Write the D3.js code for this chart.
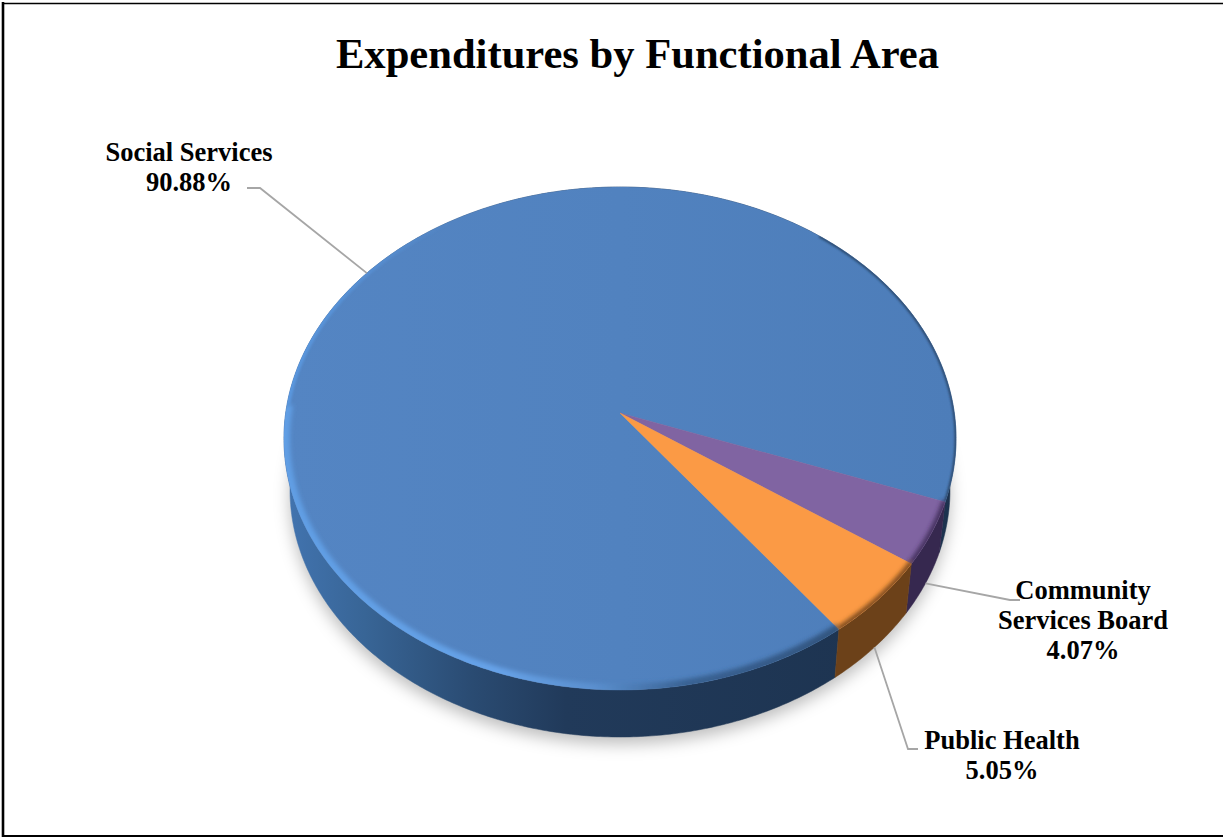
<!DOCTYPE html>
<html>
<head>
<meta charset="utf-8">
<title>Expenditures by Functional Area</title>
<script src="https://cdn.jsdelivr.net/npm/d3@7/dist/d3.min.js"></script>
<style>
  html, body { margin: 0; padding: 0; background: #fff; }
  svg { display: block; }
  text { font-family: "Liberation Serif", "Times New Roman", serif; font-weight: bold; fill: #000; }
</style>
</head>
<body>
<svg id="chart" width="1223" height="838"></svg>
<script>
const chartTitle = "Expenditures by Functional Area";
const categories = ["Social Services", "Community Services Board", "Public Health"];
const shares = [90.88, 4.07, 5.05];
const topColors = ["#5182bd", "#8064a2", "#fb9a45"];
const sideColors = ["#1f3450", "#36284f", "#6c4119"];
const labelLines = [["Social Services", "90.88%"], ["Community", "Services Board", "4.07%"], ["Public Health", "5.05%"]];

const W = 1223, H = 838;
const svg = d3.select("#chart");
const defs = svg.append("defs");
const rad = deg => deg * Math.PI / 180;

// Tilted disc: the centre sits above the middle of the visible ellipse because of perspective.
const disc = { cx: 620, cy: 413, a: 334.3, b: 248.9, k: 0.1014, depth: 52, baseScale: 0.982 };

// Unit circle to screen, with level 0 for the top face and level 1 for the underside.
function project(angle, radius, level) {
  const u = Math.sin(angle) * radius, v = -Math.cos(angle) * radius, d = 1 - disc.k * v;
  const s = level ? disc.baseScale : 1;
  return [disc.cx + s * disc.a * u / d, disc.cy + s * disc.b * v / d + (level ? disc.depth : 0)];
}
function rim(a0, a1, level) {
  const n = Math.max(2, Math.ceil(Math.abs(a1 - a0) / 0.01));
  return d3.range(n + 1).map(i => project(a0 + (a1 - a0) * i / n, 1, level));
}
const line = d3.line();
const closed = d3.line().curve(d3.curveLinearClosed);

const pie = d3.pie().sort(null).value(d => d)
  .startAngle(rad(143)).endAngle(rad(143 + 360));
const arcs = pie(shares);

// Filters and gradients
const blur = (id, s) => defs.append("filter").attr("id", id)
  .attr("x", "-20%").attr("y", "-20%").attr("width", "140%").attr("height", "140%")
  .append("feGaussianBlur").attr("stdDeviation", s);
blur("shadowBlur", 8);
blur("bevelBlur", 2);
blur("edgeBlur", 0.8);

function hGrad(id, stops, x1, x2) {
  const g = defs.append("linearGradient").attr("id", id).attr("gradientUnits", "userSpaceOnUse")
    .attr("x1", x1).attr("x2", x2).attr("y1", 0).attr("y2", 0);
  stops.forEach(([o, c, op]) => g.append("stop").attr("offset", o).attr("stop-color", c).attr("stop-opacity", op === undefined ? 1 : op));
}
hGrad("blueSide", [[0, "#4274b0"], [0.12, "#386596"], [0.28, "#2a4b72"], [0.42, "#213a5a"], [1, "#1c324e"]], 284, 956);
hGrad("blueTop", [[0, "#5485c3"], [0.5, "#5182bf"], [1, "#4d7db9"]], 284, 956);
hGrad("frontBevel", [[0, "#609ee4"], [0.32, "#66a2e8"], [0.46, "#5f96d6", 0.7], [0.6, "#2f5480", 0.7], [1, "#274466", 0.9]], 284, 956);
hGrad("leftBevel", [[0, "#5a98e0"], [0.1, "#5a98e0", 0.6], [0.25, "#5a98e0", 0]], 284, 956);

const clipTop = defs.append("clipPath").attr("id", "topFace");
clipTop.append("path").attr("d", closed(rim(0, 2 * Math.PI, 0)));

// Frame
[[3, 2, 3, 837, 2.6], [2, 3.5, 1223, 3.5, 1.6], [2, 836, 1223, 836, 2]].forEach(([x1, y1, x2, y2, w]) =>
  svg.append("line").attr("x1", x1).attr("y1", y1).attr("x2", x2).attr("y2", y2)
    .attr("stroke", "#000").attr("stroke-width", w));

// Title
svg.append("text").attr("x", 637.5).attr("y", 68).attr("text-anchor", "middle")
  .attr("font-size", 42.6).text(chartTitle);

// Soft drop shadow under the disc
svg.append("path").attr("d", closed(rim(0, 2 * Math.PI, 1)))
  .attr("transform", "translate(0,7)").attr("fill", "#000").attr("fill-opacity", 0.26)
  .attr("filter", "url(#shadowBlur)");

// Side wall, one band per slice; the top face hides the back half
const walls = svg.append("g");
arcs.forEach((d, i) => {
  const pts = rim(d.startAngle, d.endAngle, 0).concat(rim(d.endAngle, d.startAngle, 1));
  walls.append("path").attr("d", closed(pts))
    .attr("fill", i === 0 ? "url(#blueSide)" : sideColors[i])
    .attr("stroke", i === 0 ? "url(#blueSide)" : sideColors[i]).attr("stroke-width", 0.5);
});

// Top face slices
const faces = svg.append("g");
arcs.forEach((d, i) => {
  const pts = [project(0, 0, 0)].concat(rim(d.startAngle, d.endAngle, 0));
  faces.append("path").attr("d", closed(pts))
    .attr("fill", i === 0 ? "url(#blueTop)" : topColors[i])
    .attr("stroke", i === 0 ? "url(#blueTop)" : topColors[i]).attr("stroke-width", 0.4);
});

// Bevel along the edge of the top face: lit on the left, shaded towards the right
const bevel = svg.append("g").attr("clip-path", "url(#topFace)");
const bevelArc = (a0, a1, stroke, width, filter, opacity) =>
  bevel.append("path").attr("d", line(rim(rad(a0), rad(a1), 0)))
    .attr("fill", "none").attr("stroke", stroke).attr("stroke-width", width)
    .attr("stroke-opacity", opacity).attr("filter", `url(#${filter})`);
bevelArc(143, 272, "url(#frontBevel)", 12, "bevelBlur", 1);
bevelArc(272, 335, "url(#leftBevel)", 6, "edgeBlur", 1);
bevelArc(40, 110, "#24405f", 3, "edgeBlur", 0.85);
bevelArc(110, 124.6, "#3c2c55", 7, "bevelBlur", 0.85);
bevelArc(124.6, 143, "#6c4119", 7, "bevelBlur", 0.85);

// Leader lines run from the middle of each slice's edge to its label
const leaderElbows = [
  [[247, 188], [260, 188]],
  [[1020, 600], [1010, 600]],
  [[918, 749], [908, 749]]
];
arcs.forEach((d, i) => {
  const mid = (d.startAngle + d.endAngle) / 2;
  const anchor = project(mid, 1, i === 0 ? 0 : 1);
  svg.append("path").attr("d", line(leaderElbows[i].concat([anchor])))
    .attr("fill", "none").attr("stroke", "#a6a6a6").attr("stroke-width", 1.8);
});

// Slice labels
const labelCentres = [[189, 161], [1083, 599], [1002, 749]];
labelLines.forEach((rows, i) => {
  const t = svg.append("text").attr("text-anchor", "middle").attr("font-size", 26.5);
  rows.forEach((row, r) => t.append("tspan").attr("x", labelCentres[i][0])
    .attr("y", labelCentres[i][1] + r * 30).text(row));
});
</script>
</body>
</html>
